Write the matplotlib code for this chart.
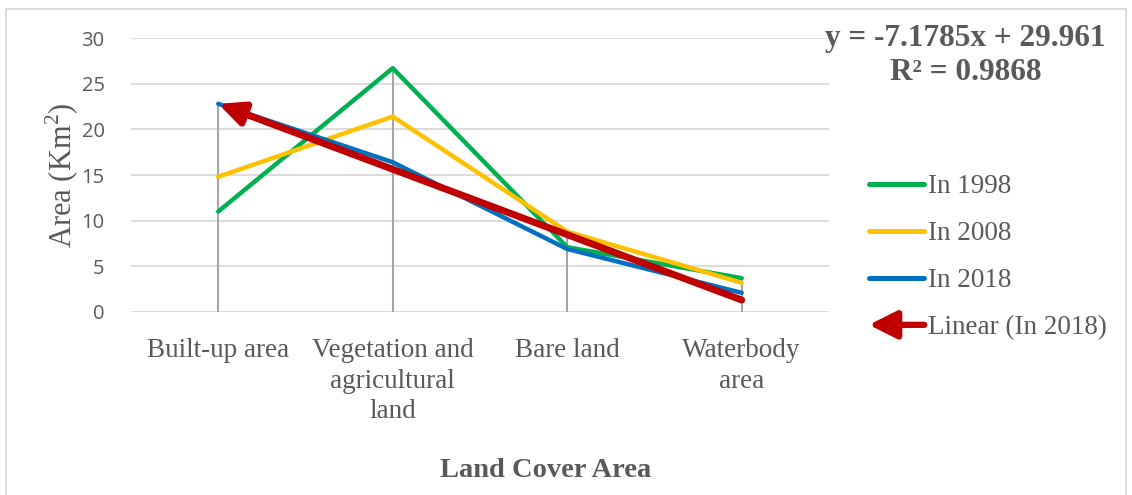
import numpy as np
import matplotlib.pyplot as plt
import matplotlib.patches as mpatches
from matplotlib.lines import Line2D
from matplotlib.legend_handler import HandlerPatch

categories = ["Built-up area", "Vegetation and\nagricultural\nland", "Bare land", "Waterbody\narea"]
in_1998 = [11.0, 26.7, 7.1, 3.7]
in_2008 = [14.8, 21.4, 8.8, 3.2]
in_2018 = [22.8, 16.4, 6.9, 2.1]
yticks = [0, 5, 10, 15, 20, 25, 30]

serif = "Liberation Serif"
grey = "#595959"
plt.rcParams["mathtext.fontset"] = "custom"
plt.rcParams["mathtext.rm"] = serif

fig = plt.figure(figsize=(11.32, 4.95), dpi=100)
ax = fig.add_axes([0.1157, 0.3697, 0.6166, 0.5535])

x = np.arange(1, len(categories) + 1)

# drop lines
tops = np.max([in_1998, in_2008, in_2018], axis=0)
ax.vlines(x, 0, tops, color="#a6a6a6", lw=1.5, zorder=2)

ax.plot(x, in_1998, color="#00B050", lw=3.2, solid_capstyle="round", zorder=3)
ax.plot(x, in_2008, color="#FFC000", lw=3.2, solid_capstyle="round", zorder=3)
ax.plot(x, in_2018, color="#0070C0", lw=3.2, solid_capstyle="round", zorder=4)

# linear trend of 2018
slope, icpt = np.polyfit(x, in_2018, 1)
trend = slope * x + icpt
ax.annotate("", xy=(x[0], trend[0]), xytext=(x[-1], trend[-1]),
            arrowprops=dict(arrowstyle="-|>,head_length=1.5,head_width=0.7",
                            color="#C00000", lw=5, shrinkA=0, shrinkB=0,
                            capstyle="round"), zorder=5)

ax.set_xlim(0.5, 4.5)
ax.set_ylim(0, 30)
ax.set_yticks(yticks)
ax.set_xticks(x)
ax.set_xticklabels(categories, fontfamily=serif, fontsize=19.5, color=grey,
                   linespacing=1.27)
ax.tick_params(axis="x", length=0, pad=19)
ax.tick_params(axis="y", length=0, pad=19, labelsize=14.5, labelcolor=grey)
for lab in ax.get_yticklabels():
    lab.set_fontfamily("Open Sans")
ax.grid(axis="y", color="#d9d9d9", lw=1.3)
ax.set_axisbelow(True)
for s in ax.spines.values():
    s.set_visible(False)

ax.set_ylabel("Area (Km$^2$)", fontfamily=serif, fontsize=22, color=grey)
ax.yaxis.set_label_coords(-0.071, 0.5)

fig.text(0.482, 0.05, "Land Cover Area", fontfamily=serif, fontsize=20.5,
         fontweight="bold", color=grey, ha="center", va="center")

fig.text(0.853, 0.952, "y = -7.1785x + 29.961\nR\u00b2 = 0.9868", fontfamily=serif,
         fontsize=22.5, fontweight="bold", color=grey, ha="center", va="top",
         linespacing=1.22)


class ArrowHandler(HandlerPatch):
    def create_artists(self, legend, orig_handle, xdescent, ydescent, width,
                       height, fontsize, trans):
        y = 0.5 * height - ydescent
        p = mpatches.FancyArrowPatch((width - xdescent, y), (-xdescent, y),
                                     arrowstyle="-|>,head_length=1.2,head_width=0.6",
                                     mutation_scale=14, lw=4.5, color="#C00000",
                                     shrinkA=0, shrinkB=0, transform=trans)
        return [p]


handles = [Line2D([], [], color="#00B050", lw=3.6, solid_capstyle="round"),
           Line2D([], [], color="#FFC000", lw=3.6, solid_capstyle="round"),
           Line2D([], [], color="#0070C0", lw=3.6, solid_capstyle="round"),
           mpatches.FancyArrowPatch((0, 0), (1, 0))]
labels = ["In 1998", "In 2008", "In 2018", "Linear (In 2018)"]
fig.legend(handles, labels, handler_map={mpatches.FancyArrowPatch: ArrowHandler()},
           loc="center left", bbox_to_anchor=(0.746, 0.48), frameon=False,
           prop={"family": serif, "size": 19.5}, labelcolor=grey,
           handlelength=2.05, handletextpad=0.12, labelspacing=0.81)

# outer chart border
fig.patches.append(mpatches.Rectangle((0.005, -0.01), 0.99, 0.992, transform=fig.transFigure,
                                      fill=False, edgecolor="#d9d9d9", lw=1.3))

fig.savefig("out.png", dpi=100)
